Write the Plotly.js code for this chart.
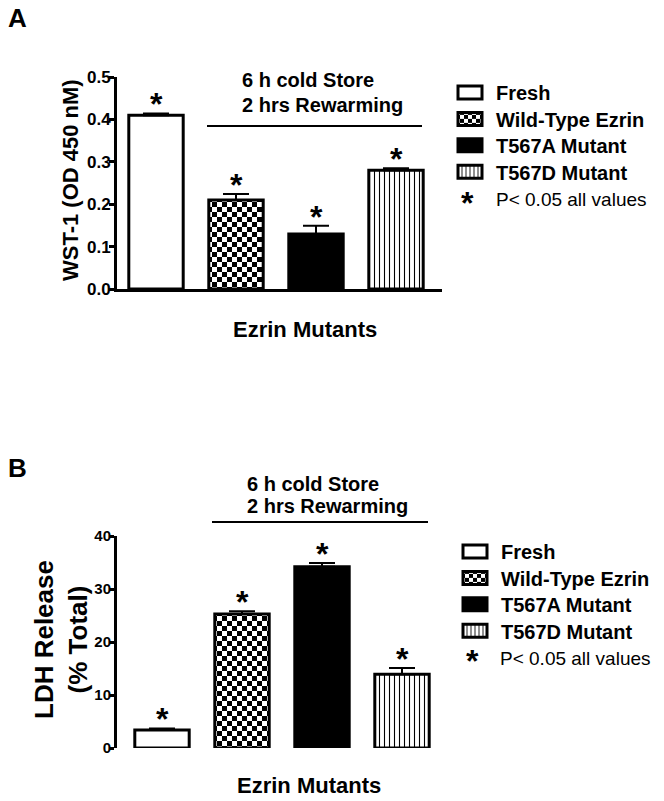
<!DOCTYPE html>
<html>
<head>
<meta charset="utf-8">
<script src="https://cdn.plot.ly/plotly-3.0.1.min.js"></script>
<style>
  body { margin: 0; background: #fff; }
  #graph { width: 664px; height: 801px; }
</style>
</head>
<body>
<div id="graph"></div>
<script>
// groups, shared by both panels
const cats = ['Fresh', 'Wild-Type Ezrin', 'T567A Mutant', 'T567D Mutant'];

// panel A: WST-1 (OD 450 nM)
const wstMean = [0.41, 0.21, 0.13, 0.28];
const wstErr = [0.004, 0.014, 0.019, 0.005];
const wstTicks = [0, 0.1, 0.2, 0.3, 0.4, 0.5];

// panel B: LDH release (% total)
const ldhMean = [3.4, 25.3, 34.2, 13.9];
const ldhErr = [0.3, 0.5, 0.7, 1.2];
const ldhTicks = [0, 10, 20, 30, 40];

const W = 664, H = 801;
const FONT = 'Liberation Sans, Arial, sans-serif';
const px = (x) => x / W;
const py = (y) => 1 - y / H;

// fill of each group; the odd fg colour tags the pattern that becomes a checkerboard below
const CHECK = '#010203';
const fills = [
  { color: 'white' },
  { color: 'white', pattern: { shape: '+', size: 11, fgcolor: CHECK, bgcolor: 'white', solidity: 0.3 } },
  { color: 'black' },
  { color: 'white', pattern: { shape: '|', size: 5, fgcolor: 'black', bgcolor: 'white', solidity: 0.22 } }
];

const makeTraces = (means, errs, xa, ya, leg) => cats.map((c, i) => ({
  type: 'bar',
  name: c,
  x: [c],
  y: [means[i]],
  width: 0.68,
  xaxis: xa,
  yaxis: ya,
  legend: leg,
  marker: Object.assign({ line: { color: 'black', width: 3 } }, fills[i]),
  error_y: { type: 'data', symmetric: false, array: [errs[i]], arrayminus: [0],
             color: 'black', thickness: 2, width: 13 },
  hoverinfo: 'skip'
}));

const data = [
  ...makeTraces(wstMean, wstErr, 'x', 'y', 'legend'),
  ...makeTraces(ldhMean, ldhErr, 'x2', 'y2', 'legend2')
];

const stars = (means, errs, xr, yr) => cats.map((c, i) => ({
  x: c, y: means[i] + errs[i], xref: xr, yref: yr,
  text: '*', showarrow: false, yanchor: 'middle', yshift: 9,
  font: { family: FONT, size: 32, weight: 'bold', color: 'black' }
}));

const txt = (text, x, y, size, opts) => Object.assign({
  text: text, x: px(x), y: py(y), xref: 'paper', yref: 'paper',
  showarrow: false, xanchor: 'center', yanchor: 'middle',
  font: { family: FONT, size: size, weight: 'bold', color: 'black' }
}, opts || {});

const plain = { family: FONT, size: 19, color: 'black' };

const annotations = [
  ...stars(wstMean, wstErr, 'x', 'y'),
  ...stars(ldhMean, ldhErr, 'x2', 'y2'),
  txt('A', 17, 18, 26),
  txt('B', 17, 468, 26),
  txt('WST-1 (OD 450 nM)', 70, 180, 22, { textangle: -90 }),
  txt('LDH Release<br>(% Total)', 61, 640, 26, { textangle: -90 }),
  txt('Ezrin Mutants', 305, 329, 22),
  txt('Ezrin Mutants', 309, 785, 22),
  txt('6 h cold Store', 240, 80, 20, { xanchor: 'left' }),
  txt('2 hrs Rewarming', 240, 105, 20, { xanchor: 'left' }),
  txt('6 h cold Store', 245, 484, 20, { xanchor: 'left' }),
  txt('2 hrs Rewarming', 245, 506, 20, { xanchor: 'left' }),
  txt('*', 467, 203, 32),
  txt('P< 0.05 all values', 494, 200, 19, { xanchor: 'left', font: plain }),
  txt('*', 472, 661, 32),
  txt('P< 0.05 all values', 498, 658, 19, { xanchor: 'left', font: plain })
];

const shapes = [
  { type: 'line', xref: 'paper', yref: 'paper', x0: px(207), x1: px(422), y0: py(126), y1: py(126),
    line: { color: 'black', width: 2 } },
  { type: 'line', xref: 'paper', yref: 'paper', x0: px(212), x1: px(428), y0: py(522), y1: py(522),
    line: { color: 'black', width: 2 } }
];

const xAxis = (dom, range) => ({
  domain: dom, range: range, type: 'category', categoryarray: cats,
  showticklabels: false, ticks: '', showline: true, linecolor: 'black', linewidth: 3,
  showgrid: false, zeroline: false, fixedrange: true
});
const yAxis = (dom, range, ticks, fmt, fs) => ({
  domain: dom, range: range, tickvals: ticks, tickformat: fmt,
  ticks: 'outside', ticklen: 5, tickwidth: 3, tickcolor: 'black',
  showline: true, linecolor: 'black', linewidth: 3, showgrid: false, zeroline: false,
  tickfont: { family: FONT, size: fs, weight: 'bold', color: 'black' }, fixedrange: true
});

const legendBase = (x, y) => ({
  x: px(x), y: py(y), xanchor: 'left', yanchor: 'top',
  bgcolor: 'rgba(0,0,0,0)', borderwidth: 0, traceorder: 'normal', tracegroupgap: 0,
  font: { family: FONT, size: 20, weight: 'bold', color: 'black' }
});

const layout = {
  width: W, height: H,
  margin: { l: 0, r: 0, t: 0, b: 0 },
  paper_bgcolor: 'white', plot_bgcolor: 'white',
  barmode: 'overlay',
  showlegend: true,
  xaxis: xAxis([px(117), px(437)], [-0.4875, 3.5125]),
  yaxis: yAxis([py(289), py(77)], [0, 0.5], wstTicks, '.1f', 17),
  xaxis2: xAxis([px(122), px(442)], [-0.5, 3.5]),
  yaxis2: yAxis([py(748), py(536)], [0, 40], ldhTicks, 'd', 15),
  legend: legendBase(456, 73),
  legend2: legendBase(461, 532),
  annotations: annotations,
  shapes: shapes
};

const isCheck = (p) => {
  if (parseFloat(p.getAttribute('width')) === 11) return true;
  const s = p.innerHTML.replace(/\s/g, '').toLowerCase();
  return s.indexOf('rgb(1,2,3)') >= 0 || s.indexOf('010203') >= 0;
};

Plotly.newPlot('graph', data, layout, { staticPlot: true }).then(() => {
  const ns = 'http://www.w3.org/2000/svg';
  // swap the tagged pattern (bars and legend) for a checkerboard
  document.querySelectorAll('pattern').forEach((p) => {
    if (!isCheck(p)) return;
    while (p.firstChild) p.removeChild(p.firstChild);
    p.setAttribute('width', '10px');
    p.setAttribute('height', '10px');
    const bg = document.createElementNS(ns, 'rect');
    bg.setAttribute('width', 10); bg.setAttribute('height', 10); bg.setAttribute('fill', 'white');
    const fg = document.createElementNS(ns, 'path');
    fg.setAttribute('d', 'M0,0h5v5h-5z M5,5h5v5h-5z');
    fg.setAttribute('fill', 'black');
    p.appendChild(bg); p.appendChild(fg);
  });
  // wider legend boxes like the original
  document.querySelectorAll('.legendpoints path').forEach((el) => {
    el.setAttribute('d', 'M-18,6.5H6V-6.5H-18Z');
  });
  // tighter legend rows
  ['legend', 'legend2'].forEach((id) => {
    const items = document.querySelectorAll('g.' + id + ' g.traces');
    let y0 = null;
    items.forEach((el, i) => {
      const m = /translate\(\s*([-\d.]+)[ ,]+([-\d.]+)\s*\)/.exec(el.getAttribute('transform') || '');
      if (!m) return;
      if (y0 === null) y0 = parseFloat(m[2]);
      el.setAttribute('transform', 'translate(' + m[1] + ',' + (y0 + i * 26.4) + ')');
    });
  });
  // tick labels sit a little closer to the axis in the original
  document.querySelectorAll('.ytick text, .y2tick text').forEach((t) => {
    t.setAttribute('dx', 5);
  });
});
</script>
</body>
</html>
